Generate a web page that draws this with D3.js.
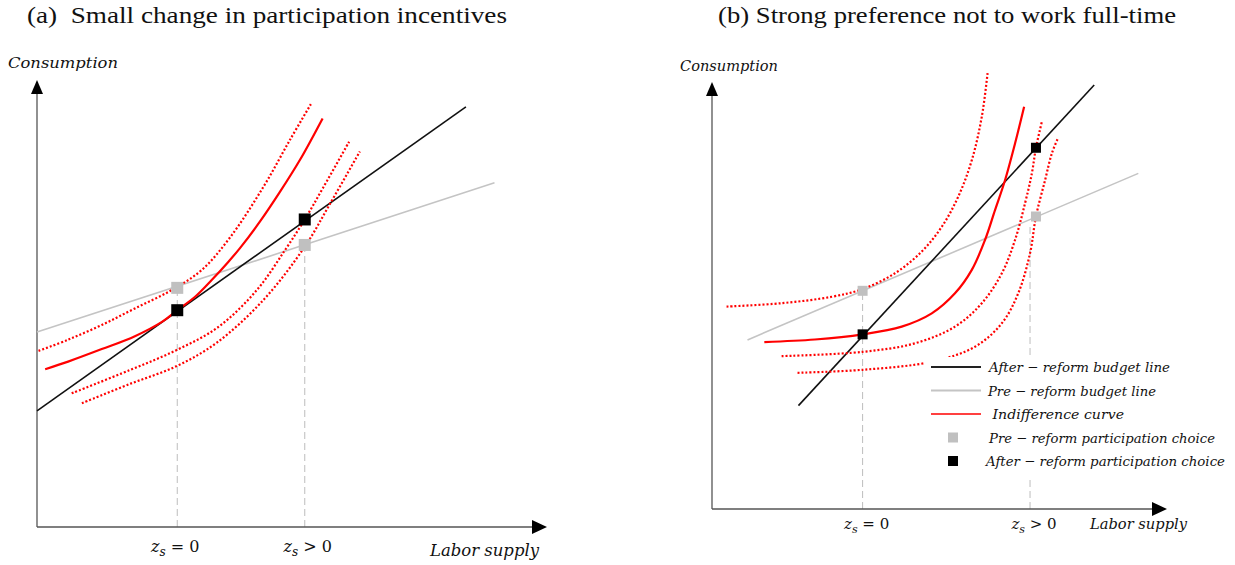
<!DOCTYPE html>
<html>
<head>
<meta charset="utf-8">
<script src="https://cdn.jsdelivr.net/npm/d3@7"></script>
<style>
  body { margin: 0; background: #fff; }
</style>
</head>
<body>
<div class="chart"></div>
<script>

// ---- panel (a): small change in participation incentives
// units: labor supply 0..100 (x), consumption 0..100 (y)
var aPreBudget = [[0, 43.6], [89.7, 77.0]];
var aAfterBudget = [[0, 26.0], [84.1, 94.0]];
var aIndiff = [[1.6, 35.3], [6.1, 37.0], [12.7, 39.8], [19.2, 42.7], [24.5, 45.9], [27.5, 48.5], [31.0, 51.5], [34.3, 55.3], [37.5, 59.3], [39.8, 62.4], [43.7, 68.3], [47.6, 74.9], [51.6, 82.2], [56.0, 91.4]];
var aIndiffHigh = [[0.3, 39.4], [6.1, 41.9], [12.7, 45.2], [19.2, 48.9], [26.4, 53.0], [32.3, 57.5], [37.8, 64.7], [44.4, 76.1], [49.6, 86.6], [53.7, 94.6]];
var aIndiffLow1 = [[6.8, 29.9], [18.2, 35.1], [27.4, 39.6], [35.5, 44.7], [43.1, 53.0], [48.6, 61.9], [52.5, 68.8], [56.1, 75.9], [61.2, 86.2]];
var aIndiffLow2 = [[8.8, 27.7], [18.2, 32.0], [27.4, 36.0], [35.2, 41.2], [44.4, 50.8], [52.5, 62.7], [57.5, 72.4], [63.3, 84.0]];
var aPreChoice = [[27.5, 53.5], [52.5, 63.1]];
var aAfterChoice = [[27.5, 48.5], [52.5, 68.8]];
var aGuides = [[27.5, 53.5], [52.5, 63.1]];

// ---- panel (b): strong preference not to work full-time
var bPreBudget = [[7.8, 39.6], [93.7, 78.6]];
var bAfterBudget = [[19.0, 24.2], [84.0, 99.3]];
var bIndiff = [[11.5, 39.1], [22.6, 39.7], [33.1, 40.9], [41.7, 42.7], [48.3, 45.8], [53.4, 50.5], [57.1, 56.0], [60.0, 63.0], [62.2, 70.0], [64.4, 77.0], [66.6, 85.6], [68.6, 94.2]];
var bIndiffHigh = [[3.2, 47.4], [15.3, 48.2], [26.3, 49.7], [33.1, 51.5], [40.2, 55.2], [46.1, 60.3], [50.5, 66.1], [54.1, 73.1], [57.1, 81.7], [59.3, 91.9], [60.6, 102.4]];
var bIndiffLow1 = [[15.3, 35.8], [33.1, 36.8], [44.6, 38.8], [53.4, 42.7], [59.3, 48.2], [63.7, 55.2], [66.6, 63.0], [68.8, 71.6], [70.3, 78.6], [71.2, 84.6], [72.5, 90.7]];
var bIndiffLow2 = [[18.8, 31.9], [33.1, 32.6], [48.3, 34.5], [57.8, 38.0], [63.7, 43.5], [67.3, 50.5], [69.9, 59.9], [71.2, 68.5], [73.2, 77.0], [74.7, 83.3], [76.1, 87.0]];
var bPreChoice = [[33.1, 51.1], [71.2, 68.5]];
var bAfterChoice = [[33.1, 40.9], [71.2, 84.6]];
var bGuides = [[33.1, 51.1], [69.9, 66.1]];

var legendLabels = [
  "After \u2212 reform budget line",
  "Pre \u2212 reform budget line",
  "\u00a0Indifference curve",
  "Pre \u2212 reform participation choice",
  "After \u2212 reform participation choice"
];
var legendKinds = ["after", "pre", "ic", "preSq", "afterSq"];

var W = 1235, H = 565;
var mathFont = "'DejaVu Serif', serif";
var titleFont = "'Liberation Serif', 'Times New Roman', serif";

var svg = d3.select('.chart').append('svg')
  .attr('width', W)
  .attr('height', H)
  .style('background', '#fff');

function drawPanel(p) {
  var x = d3.scaleLinear().domain([0, 100]).range(p.xRange);
  var y = d3.scaleLinear().domain([0, 100]).range(p.yRange);
  var g = svg.append('g');

  var straight = d3.line()
    .x(function (d) { return x(d[0]); })
    .y(function (d) { return y(d[1]); });
  var smooth = d3.line()
    .curve(d3.curveCatmullRom.alpha(0.5))
    .x(function (d) { return x(d[0]); })
    .y(function (d) { return y(d[1]); });

  // title
  svg.append('text')
    .attr('x', p.title.x)
    .attr('y', 23)
    .attr('textLength', p.title.w)
    .attr('lengthAdjust', 'spacingAndGlyphs')
    .style('font-family', titleFont)
    .style('font-size', '23px')
    .attr('fill', '#111')
    .text(p.title.text);

  // dashed guides down to the x axis
  g.selectAll('.guide')
    .data(p.guides)
    .enter().append('line')
    .attr('class', 'guide')
    .attr('x1', function (d) { return x(d[0]); })
    .attr('x2', function (d) { return x(d[0]); })
    .attr('y1', y(0))
    .attr('y2', function (d) { return y(d[1]); })
    .attr('stroke', '#bdbdbd')
    .attr('stroke-width', 1)
    .attr('stroke-dasharray', '7,4');

  // axes
  var x0 = x(0), y0 = y(0), xEnd = x(100), yEnd = y(100);
  g.append('line')
    .attr('x1', x0).attr('y1', y0).attr('x2', x0).attr('y2', yEnd + 10)
    .attr('stroke', '#555').attr('stroke-width', 1.3);
  g.append('line')
    .attr('x1', x0).attr('y1', y0).attr('x2', xEnd - 10).attr('y2', y0)
    .attr('stroke', '#555').attr('stroke-width', 1.3);
  g.append('path')
    .attr('d', 'M' + x0 + ',' + yEnd + 'L' + (x0 - 6) + ',' + (yEnd + 14) + 'L' + (x0 + 6) + ',' + (yEnd + 14) + 'Z')
    .attr('fill', '#000');
  g.append('path')
    .attr('d', 'M' + xEnd + ',' + y0 + 'L' + (xEnd - 15) + ',' + (y0 - 7) + 'L' + (xEnd - 15) + ',' + (y0 + 7) + 'Z')
    .attr('fill', '#000');

  // budget lines
  g.append('path').datum(p.pre)
    .attr('d', straight).attr('fill', 'none')
    .attr('stroke', '#c4c4c4').attr('stroke-width', 1.6);
  g.append('path').datum(p.after)
    .attr('d', straight).attr('fill', 'none')
    .attr('stroke', '#111').attr('stroke-width', 1.6);

  // dotted indifference curves
  g.selectAll('.icdot')
    .data(p.dotted)
    .enter().append('path')
    .attr('class', 'icdot')
    .attr('d', smooth)
    .attr('fill', 'none')
    .attr('stroke', '#ff0000')
    .attr('stroke-width', 2.2)
    .attr('stroke-dasharray', '2,2');

  // chosen indifference curve
  g.append('path').datum(p.ic)
    .attr('d', smooth).attr('fill', 'none')
    .attr('stroke', '#ff0000').attr('stroke-width', 2.2);

  // participation choices
  var s = p.sq;
  g.selectAll('.pre-sq')
    .data(p.preChoice)
    .enter().append('rect')
    .attr('x', function (d) { return x(d[0]) - s / 2; })
    .attr('y', function (d) { return y(d[1]) - s / 2; })
    .attr('width', s).attr('height', s)
    .attr('fill', '#c0c0c0');
  g.selectAll('.after-sq')
    .data(p.afterChoice)
    .enter().append('rect')
    .attr('x', function (d) { return x(d[0]) - s / 2; })
    .attr('y', function (d) { return y(d[1]) - s / 2; })
    .attr('width', s).attr('height', s)
    .attr('fill', '#000');

  // axis labels
  g.append('text')
    .attr('x', p.cons.x).attr('y', p.cons.y)
    .attr('textLength', p.cons.w).attr('lengthAdjust', 'spacingAndGlyphs')
    .style('font-family', mathFont).style('font-style', 'italic')
    .style('font-size', p.fs + 'px').attr('fill', '#111')
    .text('Consumption');
  g.append('text')
    .attr('x', p.labor.x).attr('y', p.labor.y)
    .attr('textLength', p.labor.w).attr('lengthAdjust', 'spacingAndGlyphs')
    .style('font-family', mathFont).style('font-style', 'italic')
    .style('font-size', (p.fs + 1) + 'px').attr('fill', '#111')
    .text('Labor supply');

  // z_s labels under the guides
  var zl = g.selectAll('.zlab')
    .data(['\u00a0=\u00a00', '\u00a0>\u00a00'])
    .enter().append('text')
    .attr('x', function (d, i) { return x(p.guides[i][0]) + p.zShift[i]; })
    .attr('y', p.zY)
    .attr('text-anchor', 'middle')
    .style('font-family', mathFont)
    .style('font-size', (p.fs + 1) + 'px')
    .attr('fill', '#111');
  zl.append('tspan').style('font-style', 'italic').text('z');
  zl.append('tspan').style('font-style', 'italic').style('font-size', (p.fs - 3) + 'px')
    .attr('dy', 4).text('s');
  zl.append('tspan').attr('dy', -4).text(function (d) { return d; });

  return { x: x, y: y, g: g };
}

drawPanel({
  xRange: [37, 547], yRange: [527, 80],
  title: { x: 27, w: 480, text: '(a)\u00a0\u00a0Small change in participation incentives' },
  pre: aPreBudget, after: aAfterBudget,
  ic: aIndiff, dotted: [aIndiffHigh, aIndiffLow1, aIndiffLow2],
  preChoice: aPreChoice, afterChoice: aAfterChoice, guides: aGuides,
  sq: 12, fs: 15,
  cons: { x: 8, y: 68, w: 110 },
  labor: { x: 430, y: 556, w: 109 },
  zShift: [-2, 3], zY: 552
});

drawPanel({
  xRange: [712, 1167], yRange: [509, 82],
  title: { x: 718, w: 458, text: '(b) Strong preference not to work full-time' },
  pre: bPreBudget, after: bAfterBudget,
  ic: bIndiff, dotted: [bIndiffHigh, bIndiffLow1, bIndiffLow2],
  preChoice: bPreChoice, afterChoice: bAfterChoice, guides: bGuides,
  sq: 10, fs: 14,
  cons: { x: 680, y: 71, w: 98 },
  labor: { x: 1090, y: 529, w: 97 },
  zShift: [4, 4], zY: 529
});

// legend of panel (b), on a white box
var leg = svg.append('g').attr('transform', 'translate(925,357)');
leg.append('rect')
  .attr('width', 310).attr('height', 119)
  .attr('fill', '#fff');
var rows = leg.selectAll('.row')
  .data(legendLabels)
  .enter().append('g')
  .attr('class', 'row')
  .attr('transform', function (d, i) { return 'translate(0,' + (10 + i * 23.5) + ')'; });
rows.each(function (d, i) {
  var r = d3.select(this);
  var k = legendKinds[i];
  if (k === 'after' || k === 'pre' || k === 'ic') {
    r.append('line')
      .attr('x1', 6).attr('x2', 56).attr('y1', 0).attr('y2', 0)
      .attr('stroke', k === 'after' ? '#222' : (k === 'pre' ? '#c4c4c4' : '#ff0000'))
      .attr('stroke-width', k === 'ic' ? 1.6 : 2);
  } else {
    r.append('rect')
      .attr('x', 23).attr('y', -5).attr('width', 10).attr('height', 10)
      .attr('fill', k === 'preSq' ? '#c0c0c0' : '#000');
  }
});
var legX = [64, 63, 63, 64, 61];
var legW = [181, 168, 136, 226, 239];
rows.append('text')
  .attr('x', function (d, i) { return legX[i]; })
  .attr('y', 5)
  .attr('textLength', function (d, i) { return legW[i]; })
  .attr('lengthAdjust', 'spacingAndGlyphs')
  .style('font-family', mathFont)
  .style('font-style', 'italic')
  .style('font-size', '13.5px')
  .attr('fill', '#111')
  .text(function (d) { return d; });
</script>
</body>
</html>
